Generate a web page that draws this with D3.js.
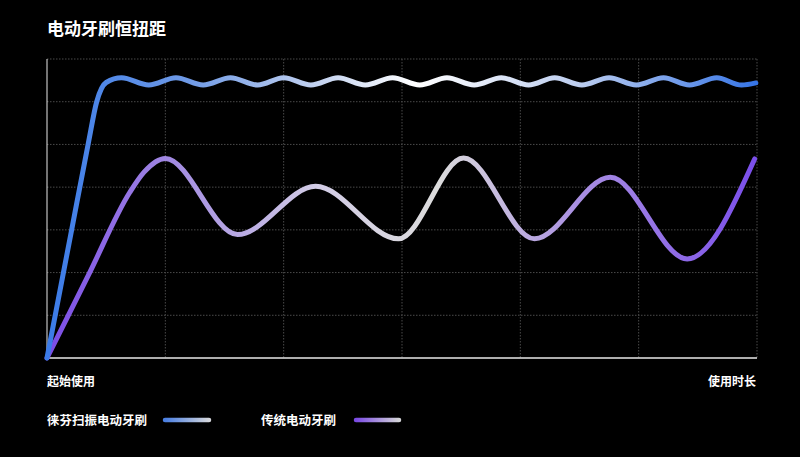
<!DOCTYPE html>
<html>
<head>
<meta charset="utf-8">
<script src="https://cdn.jsdelivr.net/npm/d3@7"></script>
<style>
	html, body { margin: 0; padding: 0; background: #000; }
	svg { display: block; }
	text { font-family: "Noto Sans CJK SC", "Noto Sans", sans-serif; fill: #fff; }
</style>
</head>
<body>
<div id="chart"></div>
<script>
"use strict";

//********************************* DATA *********************************
var title = "电动牙刷恒扭距";
var xLabels = ["起始使用", "使用时长"];				//start / end of the x axis
var seriesNames = ["徕芬扫振电动牙刷", "传统电动牙刷"];

//Laifen sonic brush: fast rise then a small steady ripple
var laifenX = [0, 0.20, 0.35, 0.42, 0.50, 0.63, 0.86, 1.09, 1.32, 1.55, 1.78, 2.00, 2.23, 2.46, 2.69,
			   2.92, 3.15, 3.38, 3.61, 3.84, 4.07, 4.29, 4.52, 4.75, 4.98, 5.21, 5.43,
			   5.66, 5.87, 5.99];
var laifenY = [0, 2.88, 5.04, 6.00, 6.45, 6.56, 6.39, 6.56, 6.39, 6.56, 6.39, 6.56, 6.39, 6.56, 6.39,
			   6.56, 6.39, 6.56, 6.39, 6.56, 6.39, 6.56, 6.39, 6.56, 6.39, 6.56, 6.39,
			   6.56, 6.39, 6.44];

//Ordinary electric brush: slow rise then large swings
var normalX = [0, 0.35, 0.70, 0.82, 1.00, 1.61, 2.27, 2.97, 3.52, 4.12, 4.76, 5.41, 5.98];
var normalY = [0, 1.94, 3.88, 4.35, 4.67, 2.89, 4.02, 2.79, 4.68, 2.79, 4.23, 2.32, 4.66];

var xTicks = [0, 1, 2, 3, 4, 5, 6];
var yTicks = [0, 1, 2, 3, 4, 5, 6, 7];

//********************************* LAYOUT *********************************
var width = 800, height = 457;
var plotLeft = 47, plotRight = 757, plotTop = 59, plotBottom = 358;

var svg = d3.select("#chart").append("svg")
			.attr("width", width)
			.attr("height", height);

var x = d3.scaleLinear().domain([0, 6]).range([plotLeft, plotRight]);
var y = d3.scaleLinear().domain([0, 7]).range([plotBottom, plotTop]);

//gradients along the x direction
var defs = svg.append("defs");
function gradient(id, x1, x2, stops){
	var g = defs.append("linearGradient")
				.attr("id", id)
				.attr("gradientUnits", "userSpaceOnUse")
				.attr("x1", x1).attr("x2", x2)
				.attr("y1", 0).attr("y2", 0);
	stops.forEach(function(s){
		g.append("stop").attr("offset", s[0]).attr("stop-color", s[1]);
	});
}
gradient("gBlue", plotLeft, plotRight, [[0, "#3b7be8"], [0.2, "#6f9ae6"], [0.38, "#c3d2f0"], [0.52, "#ffffff"], [0.75, "#bccdef"], [1, "#3574e6"]]);
gradient("gPurple", plotLeft, plotRight, [[0, "#7a4be6"], [0.2, "#a893e2"], [0.38, "#d2cce6"], [0.55, "#dcdcdc"], [0.75, "#a98fe2"], [1, "#7a4eea"]]);
gradient("lgBlue", 165, 209, [[0, "#4a7fe2"], [1, "#d4d6dc"]]);
gradient("lgPurple", 356, 399, [[0, "#7b4be4"], [1, "#d4d4d8"]]);

//********************************* GRID *********************************
svg.append("g").selectAll("line")
	.data(yTicks.slice(1))
	.enter()
		.append("line")
		.attr("x1", plotLeft).attr("x2", plotRight)
		.attr("y1", function(d){ return y(d); })
		.attr("y2", function(d){ return y(d); })
		.attr("stroke", "#4a4a4a")
		.attr("stroke-width", 1)
		.attr("stroke-dasharray", "1.5,1.5");

svg.append("g").selectAll("line")
	.data(xTicks.slice(1))
	.enter()
		.append("line")
		.attr("y1", plotTop).attr("y2", plotBottom)
		.attr("x1", function(d){ return x(d); })
		.attr("x2", function(d){ return x(d); })
		.attr("stroke", "#4a4a4a")
		.attr("stroke-width", 1)
		.attr("stroke-dasharray", "1.5,1.5");

//axes: plain white lines, no ticks
svg.append("line")
	.attr("x1", plotLeft).attr("x2", plotLeft).attr("y1", plotTop).attr("y2", plotBottom)
	.attr("stroke", "#e8e8e8").attr("stroke-width", 1);
svg.append("line")
	.attr("x1", plotLeft).attr("x2", plotRight).attr("y1", plotBottom).attr("y2", plotBottom)
	.attr("stroke", "#e8e8e8").attr("stroke-width", 1.5);

//********************************* LINES *********************************
var line = d3.line()
			.x(function(d){ return x(d[0]); })
			.y(function(d){ return y(d[1]); })
			.curve(d3.curveMonotoneX);

svg.append("path")
	.datum(d3.zip(normalX, normalY))
	.attr("d", line)
	.attr("fill", "none")
	.attr("stroke", "url(#gPurple)")
	.attr("stroke-width", 5)
	.attr("stroke-linecap", "round")
	.attr("stroke-linejoin", "round");

svg.append("path")
	.datum(d3.zip(laifenX, laifenY))
	.attr("d", line)
	.attr("fill", "none")
	.attr("stroke", "url(#gBlue)")
	.attr("stroke-width", 5)
	.attr("stroke-linecap", "round")
	.attr("stroke-linejoin", "round");

//********************************* TEXT *********************************
svg.append("text")
	.text(title)
	.attr("x", plotLeft).attr("y", 35)
	.attr("font-size", 17)
	.attr("font-weight", "bold");

svg.append("text")
	.text(xLabels[0])
	.attr("x", plotLeft).attr("y", 386)
	.attr("font-size", 12)
	.attr("font-weight", "bold");

svg.append("text")
	.text(xLabels[1])
	.attr("x", plotRight - 1).attr("y", 386)
	.attr("text-anchor", "end")
	.attr("font-size", 12)
	.attr("font-weight", "bold");

//legend
var legend = [
	{name: seriesNames[0], tx: plotLeft, lx1: 165, lx2: 209, grad: "url(#lgBlue)"},
	{name: seriesNames[1], tx: 261, lx1: 356, lx2: 399, grad: "url(#lgPurple)"}
];
legend.forEach(function(l){
	svg.append("text")
		.text(l.name)
		.attr("x", l.tx).attr("y", 424.5)
		.attr("font-size", 12.5)
		.attr("font-weight", "bold")
		.attr("fill", "#e6e6e6");
	svg.append("line")
		.attr("x1", l.lx1).attr("x2", l.lx2)
		.attr("y1", 420).attr("y2", 420)
		.attr("stroke", l.grad)
		.attr("stroke-width", 4.5)
		.attr("stroke-linecap", "round");
});
</script>
</body>
</html>
